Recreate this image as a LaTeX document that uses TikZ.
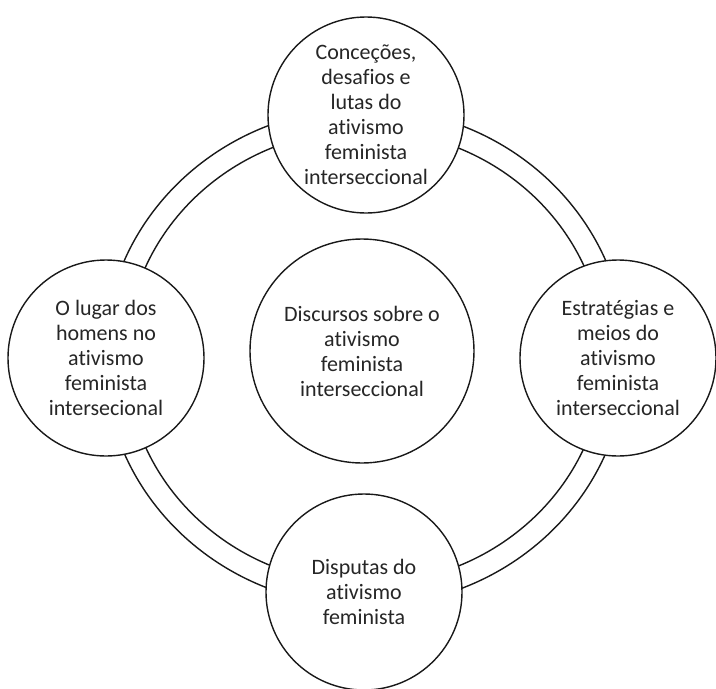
\documentclass[tikz,border=0pt]{standalone}
\usepackage{fontspec}
\setmainfont{Carlito}[RawFeature={-liga;-clig;-calt;-dlig}]
\begin{document}
\begin{tikzpicture}[x=1pt,y=-1pt,
  ringline/.style={draw=black!90, line width=1.4pt},
  topic/.style={circle, draw=black!90, line width=1.4pt, fill=white, minimum size=196pt, inner sep=0pt,
    align=center, text=black!85, font=\fontsize{22}{25}\selectfont},
  core/.style={topic, minimum size=224pt}]
\useasboundingbox (0,0) rectangle (716,689);
\coordinate (ringc) at (365,357);
\draw[ringline] (ringc) ellipse [x radius=261pt, y radius=249pt];
\draw[ringline] (ringc) ellipse [x radius=239pt, y radius=227pt];
\node[topic] (top) at (366,115) {Conceções,\\desafios e\\lutas do\\ativismo\\feminista\\interseccional};
\node[topic] (left) at (106,358) {O lugar dos\\homens no\\ativismo\\feminista\\intersecional};
\node[topic] (right) at (618,358) {Estratégias e\\meios do\\ativismo\\feminista\\interseccional};
\node[topic] (bottom) at (364,592) {Disputas do\\ativismo\\feminista};
\node[core] (center) at (362,351) {Discursos sobre o\\ativismo\\feminista\\interseccional};
\end{tikzpicture}
\end{document}
